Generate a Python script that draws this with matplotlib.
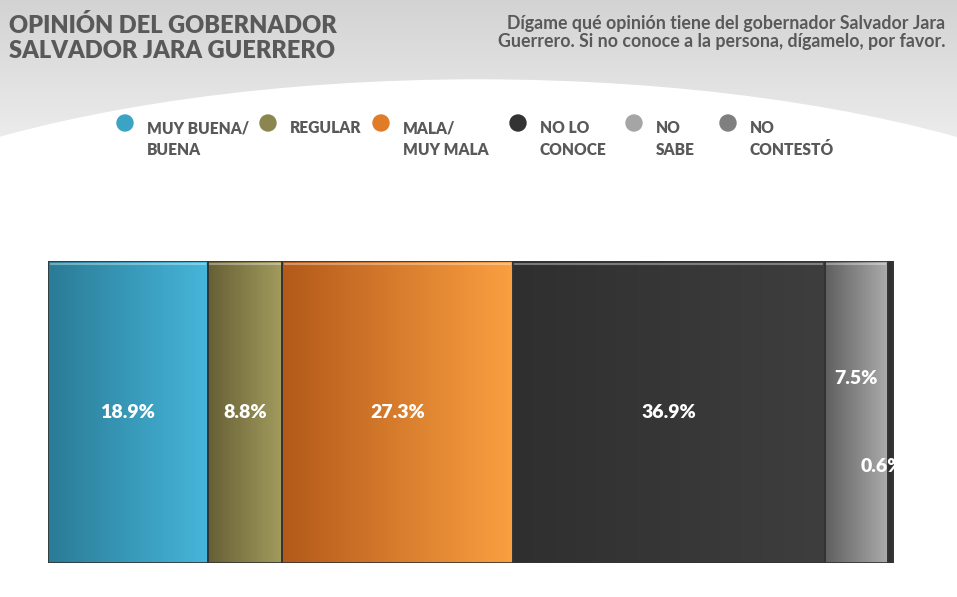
import matplotlib.pyplot as plt
import matplotlib.patches as mpatches
from matplotlib.colors import LinearSegmentedColormap
import numpy as np

plt.rcParams['font.family'] = ['Lato', 'DejaVu Sans']

categories = ['MUY BUENA/\nBUENA', 'REGULAR', 'MALA/\nMUY MALA', 'NO LO\nCONOCE', 'NO\nSABE', 'NO\nCONTESTÓ']
values = [18.9, 8.8, 27.3, 36.9, 7.5, 0.6]
labels = ['18.9%', '8.8%', '27.3%', '36.9%', '7.5%', '0.6%']

legend_colors = ['#3ba3c3', '#8b8650', '#e07b28', '#333333', '#a5a5a5', '#7f7f7f']
grad_colors = [('#2a7b95', '#46b6da'), ('#665f35', '#a39c5e'), ('#b3591a', '#fba040'),
               ('#2f2f2f', '#3e3e3e'), ('#5f5f5f', '#acacac'), ('#2a2a2a', '#3a3a3a')]
text_gray = '#595959'

fig = plt.figure(figsize=(9.57, 5.97), dpi=100)

# header background
bg = fig.add_axes([0, 0, 1, 1], zorder=-5)
bg.set_xlim(0, 957)
bg.set_ylim(597, 0)
bg.axis('off')
grad = np.linspace(0, 1, 100).reshape(-1, 1)
hdr_cmap = LinearSegmentedColormap.from_list('hdr', ['#d3d3d3', '#ededed'])
bg.imshow(grad, cmap=hdr_cmap, extent=[0, 957, 145, 0], aspect='auto')
bg.add_patch(mpatches.Ellipse((478, 330), 1500, 500, color='white', zorder=2))

# titles
fig.text(0.009, 0.977, 'OPINIÓN DEL GOBERNADOR\nSALVADOR JARA GUERRERO', fontsize=17,
         fontweight='heavy', color=text_gray, va='top', ha='left', linespacing=1.2)
fig.text(0.988, 0.975, 'Dígame qué opinión tiene del gobernador Salvador Jara\n'
         'Guerrero. Si no conoce a la persona, dígamelo, por favor.', fontsize=12.8,
         fontweight='bold', color=text_gray, va='top', ha='right', linespacing=1.1)

# legend
leg_x = [125, 268, 381, 518, 634, 728]
for x, c, name in zip(leg_x, legend_colors, categories):
    bg.add_patch(mpatches.Circle((x, 123), 8, color=c, zorder=3))
    bg.text(x + 22, 120, name, fontsize=11.2, fontweight='heavy', color=text_gray,
            va='top', ha='left', zorder=3, linespacing=1.45)

# stacked bar
ax = fig.add_axes([48 / 957, 1 - 563 / 597, 845 / 957, 302 / 597])
ax.set_xlim(0, 100)
ax.set_ylim(-0.5, 0.5)
ax.axis('off')
left = 0
row = np.linspace(0, 1, 256).reshape(1, -1)
for i, v in enumerate(values):
    bar = ax.barh(0, v, left=left, height=1.0, color=legend_colors[i],
                  edgecolor='#2b2b2b', linewidth=1.2)[0]
    cm = LinearSegmentedColormap.from_list('g%d' % i, grad_colors[i])
    im = ax.imshow(row, cmap=cm, extent=[left, left + v, -0.5, 0.5], aspect='auto', zorder=2)
    im.set_clip_path(bar)
    ax.add_patch(mpatches.Rectangle((left, -0.5), v, 1.0, fill=False,
                                    edgecolor='#333333', linewidth=1.2, zorder=3))
    # light bevel along the top
    ax.plot([left + 0.3, left + v - 0.3], [0.49, 0.49], color='white', alpha=0.35,
            linewidth=1.5, zorder=3)
    left += v

# value labels
centers = np.cumsum(values) - np.array(values) / 2
label_y = [0, 0, 0, 0, 0.11, -0.18]
label_dx = [0, 0, 0, 0, 0, -1.0]
for cx, lab, ly, dx in zip(centers, labels, label_y, label_dx):
    ax.text(cx + dx, ly, lab, color='white', fontsize=14, fontweight='heavy',
            ha='center', va='center', zorder=4, clip_on=False)

fig.savefig('out.png', dpi=100)
